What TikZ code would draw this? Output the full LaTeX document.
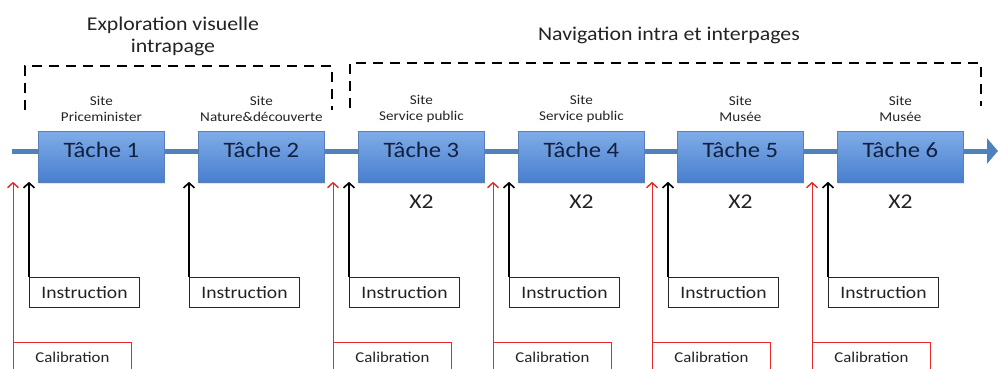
\documentclass[tikz,border=0pt]{standalone}
\usepackage{fontspec}
\setmainfont{Carlito}[FakeStretch=1.12]
\usetikzlibrary{arrows.meta,shadows}
\definecolor{flowblue}{RGB}{79,129,189}
\definecolor{boxtop}{RGB}{128,172,232}
\definecolor{boxbot}{RGB}{72,126,206}
\definecolor{boxedge}{RGB}{88,128,188}
\definecolor{tasktext}{RGB}{16,32,62}
\definecolor{calred}{RGB}{230,40,40}
\definecolor{txtgray}{RGB}{35,35,35}
\begin{document}
\begin{tikzpicture}[x=1pt,y=-1pt,
  taskbox/.style={draw=boxedge, line width=0.8pt, top color=boxtop, bottom color=boxbot,
    minimum width=126pt, minimum height=51pt, inner sep=0pt, anchor=north west,
    drop shadow={opacity=0.22,shadow xshift=1pt,shadow yshift=-2pt}},
  tasklbl/.style={label={[font=\fontsize{22}{24}\selectfont, text=tasktext, yshift=7pt]center:#1}},
  sitelbl/.style={align=center, font=\fontsize{13.5}{16}\selectfont, text=txtgray, inner sep=0pt},
  repeatlbl/.style={font=\fontsize{21}{24}\selectfont, text=txtgray, inner sep=0pt},
  instrbox/.style={draw=black!85, line width=0.9pt, minimum width=110pt, minimum height=30pt,
    inner sep=0pt, anchor=north west, font=\fontsize{17.5}{20}\selectfont, text=txtgray},
  calbox/.style={draw=calred, line width=0.8pt, minimum width=118pt, minimum height=30pt,
    inner sep=0pt, anchor=north west, font=\fontsize{15}{18}\selectfont, text=txtgray},
  instrarrow/.style={draw=black, line width=1.5pt, -{Straight Barb[length=5pt,width=11pt,line width=1.6pt]}, shorten >=-1pt},
  calarrow/.style={draw=calred, line width=0.9pt, -{Straight Barb[length=5pt,width=11pt,line width=1.4pt]}, shorten >=-1pt},
  groupline/.style={draw=black, line width=2.6pt, dash pattern=on 10pt off 7pt},
  titlelbl/.style={align=center, font=\fontsize{19.5}{22}\selectfont, text=txtgray, inner sep=0pt}
]
\useasboundingbox (0,0) rectangle (998,369);
\clip (0,0) rectangle (998,369);

% titles
\node[titlelbl] (title1) at (173,36) {Exploration visuelle\\intrapage};
\node[titlelbl] (title2) at (669,35) {Navigation intra et interpages};

% dashed groupings
\draw[groupline] (25,110) -- (25,66) -- (332,66) -- (332,110);
\draw[groupline] (350,108) -- (350,63) -- (981,63) -- (981,106);

% main flow line
\coordinate (flowstart) at (12,151);
\coordinate (flowend) at (998,151);
\draw[flowblue, line width=5pt, -{Triangle[length=11pt,width=25pt]}] (flowstart) -- (flowend);

% tasks
\node[taskbox, tasklbl={Tâche 1}] (t1) at (38,131) {};
\node[taskbox, tasklbl={Tâche 2}] (t2) at (198,131) {};
\node[taskbox, tasklbl={Tâche 3}] (t3) at (358,131) {};
\node[taskbox, tasklbl={Tâche 4}] (t4) at (518,131) {};
\node[taskbox, tasklbl={Tâche 5}] (t5) at (677,131) {};
\node[taskbox, tasklbl={Tâche 6}] (t6) at (837,131) {};

% site labels
\node[sitelbl] (s1) at ([yshift=22pt]t1.north) {Site\\Priceminister};
\node[sitelbl] (s2) at ([yshift=22pt]t2.north) {Site\\Nature\&découverte};
\node[sitelbl] (s3) at ([yshift=22pt]t3.north) {Site\\Service public};
\node[sitelbl] (s4) at ([yshift=22pt]t4.north) {Site\\Service public};
\node[sitelbl] (s5) at ([yshift=22pt]t5.north) {Site\\Musée};
\node[sitelbl] (s6) at ([yshift=22pt]t6.north) {Site\\Musée};

% repetitions
\node[repeatlbl] (r3) at ([yshift=-19pt]t3.south) {X2};
\node[repeatlbl] (r4) at ([yshift=-19pt]t4.south) {X2};
\node[repeatlbl] (r5) at ([yshift=-19pt]t5.south) {X2};
\node[repeatlbl] (r6) at ([yshift=-19pt]t6.south) {X2};

% instructions
\node[instrbox] (i1) at (29,277) {Instruction};
\node[instrbox] (i2) at (189,277) {Instruction};
\node[instrbox] (i3) at (349,277) {Instruction};
\node[instrbox] (i4) at (509,277) {Instruction};
\node[instrbox] (i5) at (668,277) {Instruction};
\node[instrbox] (i6) at (828,277) {Instruction};
\foreach \k in {1,...,6}{
  \draw[instrarrow] (i\k.north west) -- (i\k.north west |- t\k.south);
}

% calibrations
\node[calbox] (c1) at (13,342) {Calibration};
\node[calbox] (c3) at (333,342) {Calibration};
\node[calbox] (c4) at (493,342) {Calibration};
\node[calbox] (c5) at (652,342) {Calibration};
\node[calbox] (c6) at (812,342) {Calibration};
\foreach \k in {1,3,4,5,6}{
  \draw[calarrow] (c\k.north west) -- (c\k.north west |- t\k.south);
}
\end{tikzpicture}
\end{document}
